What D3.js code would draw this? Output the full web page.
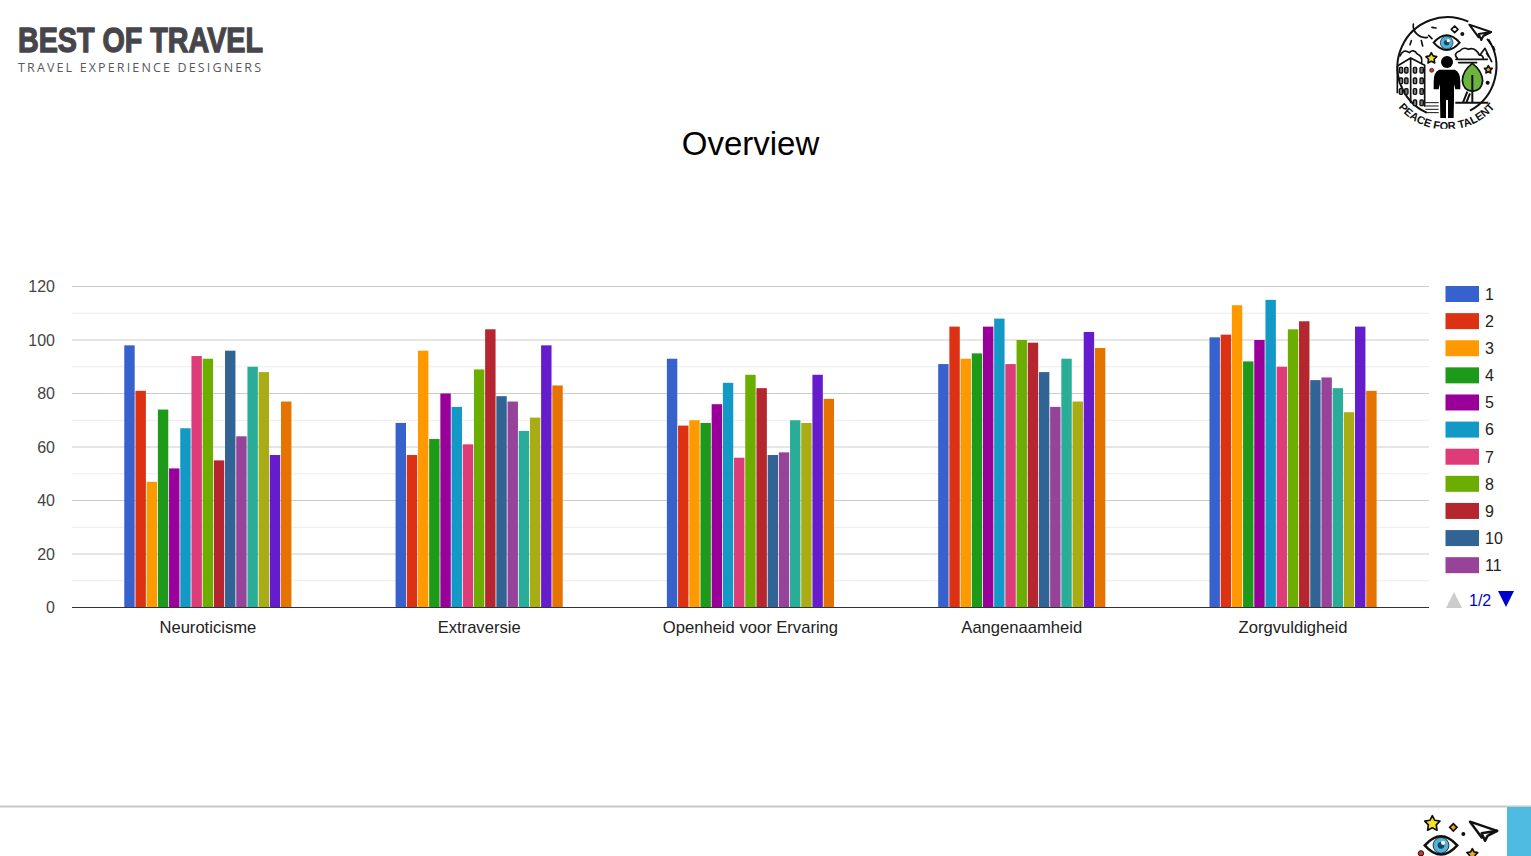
<!DOCTYPE html>
<html><head><meta charset="utf-8">
<script src="https://cdn.jsdelivr.net/npm/d3@7"></script>
<style>html,body{margin:0;padding:0;background:#fff;overflow:hidden}svg{display:block}text{font-family:"Liberation Sans",Arial,sans-serif}</style>
</head><body><div id="c"></div>
<script>
const categories=["Neuroticisme","Extraversie","Openheid voor Ervaring","Aangenaamheid","Zorgvuldigheid"];
const seriesNames=["1","2","3","4","5","6","7","8","9","10","11","12","13","14","15"];
const legendNames=seriesNames.slice(0,11);
const neuroticisme=[98,81,47,74,52,67,94,93,55,96,64,90,88,57,77];
const extraversie=[69,57,96,63,80,75,61,89,104,79,77,66,71,98,83];
const openheid=[93,68,70,69,76,84,56,87,82,57,58,70,69,87,78];
const aangenaamheid=[91,105,93,95,105,108,91,100,99,88,75,93,77,103,97];
const zorgvuldigheid=[101,102,113,92,100,115,90,104,107,85,86,82,73,105,81];
const values=[neuroticisme,extraversie,openheid,aangenaamheid,zorgvuldigheid];
const colors=["#3761cc","#dc3213","#ff9900","#1e9a1b","#990099","#1399c6","#dd3c78","#6bae00","#b5262f","#316395","#964399","#2aad98","#aaac14","#651ccc","#e67300"];
const yTicks=[0,20,40,60,80,100,120];
const yMinor=[10,30,50,70,90,110];

const W=1531,H=856;
const svg=d3.select("#c").append("svg").attr("width",W).attr("height",H);
const y=d3.scaleLinear().domain([0,120]).range([607.5,286.5]);
const x0=d3.scaleBand().domain(categories).range([72.2,1428.7]).paddingInner(0.381).paddingOuter(0.1905);
const x1=d3.scaleBand().domain(seriesNames).range([0,x0.bandwidth()]).paddingInner(0.07).paddingOuter(0.035);

// grid
svg.append("g").selectAll("line").data(yMinor).join("line")
 .attr("x1",72).attr("x2",1429).attr("y1",d=>y(d)).attr("y2",d=>y(d)).attr("stroke","#ececec").attr("stroke-width",1);
svg.append("g").selectAll("line").data(yTicks.filter(d=>d>0)).join("line")
 .attr("x1",72).attr("x2",1429).attr("y1",d=>y(d)).attr("y2",d=>y(d)).attr("stroke","#cccccc").attr("stroke-width",1);
svg.append("g").selectAll("text").data(yTicks).join("text")
 .attr("x",55).attr("y",d=>y(d)+5.5).attr("text-anchor","end").attr("font-size",16).attr("fill","#444").text(d=>d);

// bars
const groups=svg.append("g").selectAll("g").data(categories).join("g")
 .attr("transform",c=>`translate(${x0(c)},0)`);
groups.selectAll("rect").data((c,i)=>values[i].map((v,j)=>({v,name:seriesNames[j],color:colors[j]}))).join("rect")
 .attr("x",d=>x1(d.name)).attr("width",x1.bandwidth()).attr("y",d=>y(d.v)).attr("height",d=>y(0)-y(d.v)).attr("fill",d=>d.color);
svg.append("line").attr("x1",72).attr("x2",1429).attr("y1",607.5).attr("y2",607.5).attr("stroke","#333").attr("stroke-width",1);
svg.append("g").selectAll("text").data(categories).join("text")
 .attr("x",c=>x0(c)+x0.bandwidth()/2).attr("y",633).attr("text-anchor","middle").attr("font-size",16.6).attr("fill","#222").text(c=>c);

// title
svg.append("text").attr("x",750.5).attr("y",155).attr("text-anchor","middle").attr("font-size",33).attr("fill","#000").text("Overview");

// legend
const lg=d3.scaleBand().domain(legendNames).range([280.5,578.8]);
const L=svg.append("g").selectAll("g").data(legendNames).join("g").attr("transform",d=>`translate(0,${lg(d)})`);
L.append("rect").attr("x",1445.5).attr("y",5.5).attr("width",33.5).attr("height",16).attr("fill",(d,i)=>colors[i]);
L.append("text").attr("x",1485).attr("y",19.3).attr("font-size",16).attr("fill","#222").text(d=>d);
svg.append("path").attr("d","M1446 608L1454 592L1462 608Z").attr("fill","#ccc");
svg.append("text").attr("x",1469).attr("y",605.5).attr("font-size",16).attr("fill","#0000cc").text("1/2");
svg.append("path").attr("d","M1498 591L1514 591L1506 607Z").attr("fill","#0000cc");

// brand
const brand=svg.append("g");
brand.append("text").attr("x",18).attr("y",52).attr("font-weight",700).attr("font-size",35)
 .attr("fill","#46464a").attr("stroke","#46464a").attr("stroke-width",1.3).attr("textLength",245).attr("lengthAdjust","spacingAndGlyphs").text("BEST OF TRAVEL");
brand.append("text").attr("x",18).attr("y",72).style("font-family","'Open Sans'").attr("font-size",12.5)
 .attr("fill","#58585c").attr("textLength",243).text("TRAVEL EXPERIENCE DESIGNERS");

function eye(g,cx,cy,s){
 const e=g.append("g").attr("transform",`translate(${cx},${cy}) scale(${s})`);
 e.append("path").attr("d","M-39 0Q0 -44 39 0Q0 44 -39 0Z").attr("fill","#fff").attr("stroke","#111").attr("stroke-width",6);
 e.append("circle").attr("r",19).attr("fill","#4fb3dc").attr("stroke","#111").attr("stroke-width",2);
 e.append("circle").attr("r",8).attr("fill","#12475f");
 e.append("circle").attr("cx",5).attr("cy",-6).attr("r",5).attr("fill","#fff");
}
function star(g,cx,cy,r,fill){
 const pts=d3.range(10).map(i=>{const a=-Math.PI/2+i*Math.PI/5,q=i%2?r*0.52:r;return [cx+q*Math.cos(a),cy+q*Math.sin(a)]});
 g.append("path").attr("d","M"+pts.join("L")+"Z").attr("fill",fill).attr("stroke","#111").attr("stroke-width",5).attr("stroke-linejoin","round");
}
function plane(g,t){
 const p=g.append("g").attr("transform",t).attr("fill","#fff").attr("stroke","#111").attr("stroke-width",6).attr("stroke-linejoin","round");
 p.append("path").attr("d","M0 0L65 22L28 38Z");
 p.append("path").attr("d","M65 22L28 28L36 46L42 34Z");
}

// top right logo
const defs=svg.append("defs");
defs.append("clipPath").attr("id","lc").append("rect").attr("x",0).attr("y",0).attr("width",453).attr("height",386);
defs.append("path").attr("id","arc").attr("d","M28 280A190 190 0 0 0 372 280");
const logo=svg.append("g").attr("transform","translate(1380,0) scale(0.3333)").attr("clip-path","url(#lc)");
logo.append("path").attr("d","M140 338A150 150 0 0 1 265 65M325 118A150 150 0 0 1 270 332").attr("fill","none").attr("stroke","#111").attr("stroke-width",6);
const ln=logo.append("g").attr("fill","none").attr("stroke","#111").attr("stroke-width",5).attr("stroke-linecap","round").attr("stroke-linejoin","round");
ln.append("path").attr("d","M100 72A36 36 0 0 0 142 112");
ln.append("path").attr("d","M94 122L90 134M124 122L128 138M146 106L156 116M156 82L168 84");
ln.append("path").attr("d","M60 168Q70 145 88 158Q100 145 112 162Q128 168 125 188");
ln.append("path").attr("d","M228 178H322M232 175Q218 160 240 152Q250 140 265 148Q285 140 298 165Q310 165 310 178M236 188H290");
ln.append("path").attr("d","M300 165L315 145L335 185M320 160L326 170");
ln.append("path").attr("d","M322 118L332 132M340 140L344 150");
ln.append("path").attr("d","M224 78L234 88L224 98L214 88Z");
logo.append("circle").attr("cx",247).attr("cy",102).attr("r",6).attr("fill","#111");
plane(logo,"translate(268,74)");
eye(logo,200,128,1);
star(logo,154,175,17,"#f7e31a");
logo.append("circle").attr("cx",155).attr("cy",211).attr("r",6).attr("fill","#d9302a").attr("stroke","#111").attr("stroke-width",2);
star(logo,325,209,12,"#f2a71b");
logo.append("circle").attr("cx",323).attr("cy",248).attr("r",6).attr("fill","#111");
const b=logo.append("g").attr("fill","none").attr("stroke","#111").attr("stroke-width",5);
b.append("path").attr("d","M52 198L92 174L134 196V320M92 174V310M52 198V280");
b.append("path").attr("d","M136 308H176M136 318H176M136 328H176M136 338H176").attr("stroke-width",3);
for(const wx of [58,74,100,120]) for(const wy of [202,234,266,300]){
 if(wx<90&&wy>280)continue;
 b.append("rect").attr("x",wx).attr("y",wy).attr("width",10).attr("height",17).attr("rx",3).attr("stroke-width",4).attr("fill","#777");
}
logo.append("path").attr("d","M277 190Q248 212 247 242Q250 272 277 274Q306 272 308 242Q306 212 277 190Z").attr("fill","#6cb43f").attr("stroke","#111").attr("stroke-width",5);
logo.append("path").attr("d","M277 225V310M262 275L248 310M270 280L258 310M226 308H325").attr("stroke","#111").attr("stroke-width",6).attr("fill","none");
logo.append("circle").attr("cx",201).attr("cy",186).attr("r",18).attr("fill","#000");
logo.append("path").attr("d","M178 209H224Q241 215 241 245V268H226L222 252V295L221 354H204V300H198V354H181L180 295V252L176 268H161V245Q161 215 178 209Z").attr("fill","#000");
logo.append("text").attr("font-size",33).attr("font-weight",700).attr("fill","#111")
 .append("textPath").attr("href","#arc").attr("startOffset","50%").attr("text-anchor","middle").text("PEACE FOR TALENT");

// footer
svg.append("line").attr("x1",0).attr("x2",W).attr("y1",806.5).attr("y2",806.5).attr("stroke","#c8c8c8").attr("stroke-width",2);
svg.append("rect").attr("x",1507).attr("y",807).attr("width",24).attr("height",49).attr("fill","#50bbe0");
const foot=svg.append("g").attr("transform","translate(1380,790) scale(0.3333)");
star(foot,157,101,24,"#f7e31a");
foot.append("path").attr("d","M220 101L231 112L220 123L209 112Z").attr("fill","#f2a71b").attr("stroke","#111").attr("stroke-width",5);
foot.append("circle").attr("cx",250).attr("cy",132).attr("r",6).attr("fill","#111");
foot.append("g").attr("transform","translate(270,95) scale(1.25)").call(g=>plane(g,""));
eye(foot,183,166,1.25);
foot.append("circle").attr("cx",123).attr("cy",190).attr("r",8).attr("fill","#d9302a").attr("stroke","#111").attr("stroke-width",3);
star(foot,277,193,17,"#f2a71b");
</script></body></html>
